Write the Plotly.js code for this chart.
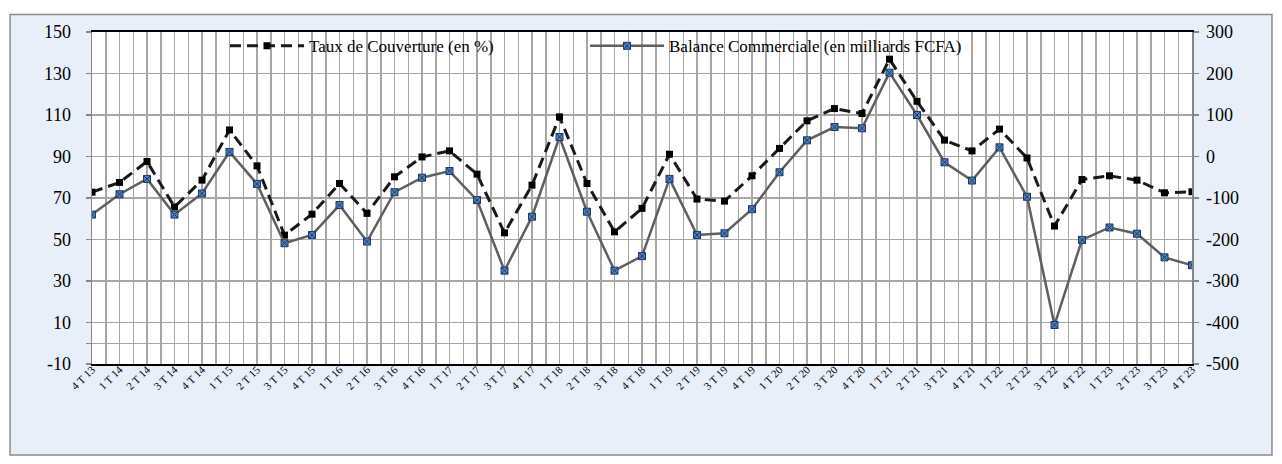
<!DOCTYPE html>
<html>
<head>
<meta charset="utf-8">
<script src="https://cdn.plot.ly/plotly-3.0.1.min.js"></script>
<style>html,body{margin:0;padding:0;background:#fff;}#chart{width:1282px;height:464px;}</style>
</head>
<body>
<div id="chart"></div>
<script>
const quarters = ["4 T 13","1 T 14","2 T 14","3 T 14","4 T 14","1 T 15","2 T 15","3 T 15","4 T 15","1 T 16","2 T 16","3 T 16","4 T 16","1 T 17","2 T 17","3 T 17","4 T 17","1 T 18","2 T 18","3 T 18","4 T 18","1 T 19","2 T 19","3 T 19","4 T 19","1 T 20","2 T 20","3 T 20","4 T 20","1 T 21","2 T 21","3 T 21","4 T 21","1 T 22","2 T 22","3 T 22","4 T 22","1 T 23","2 T 23","3 T 23","4 T 23"];
const tauxCouverture = [72.8,77.5,87.6,65.7,78.6,102.8,85.5,52.1,62.2,77,62.6,80.2,89.8,92.7,81.5,53.2,76.2,109.1,77,53.7,65,91.1,69.5,68.5,80.7,93.9,107.2,113.1,110.7,136.9,116.6,97.9,92.7,103.2,89.3,56.5,78.9,80.7,78.6,72.5,73];
const balanceCommerciale = [-140,-91,-54,-140,-89,11,-66,-209,-189,-117,-205,-86,-51,-35,-105,-275,-145,47,-133,-275,-240,-54,-189,-185,-127,-38,39,71,68,202,100,-14,-58,22,-97,-406,-201,-171,-186,-243,-262];
const seriesNames = ["Taux de Couverture (en %)", "Balance Commerciale (en milliards FCFA)"];
const leftTicks = [-10, 10, 30, 50, 70, 90, 110, 130, 150];
const rightTicks = [-500, -400, -300, -200, -100, 0, 100, 200, 300];

const xIdx = quarters.map((q, i) => i);
const FONT = "Liberation Serif, Times New Roman, serif";
const GRID = "#a6a6a6";

const traces = [
  {
    x: xIdx, y: tauxCouverture, name: seriesNames[0], type: "scatter", mode: "lines+markers",
    line: {color: "#1a1a1a", width: 3, dash: "11px,6px"},
    marker: {symbol: "square", size: 7, color: "#000"},
    yaxis: "y", legend: "legend"
  },
  {
    x: xIdx, y: balanceCommerciale, name: seriesNames[1], type: "scatter", mode: "lines+markers",
    line: {color: "#5f5f5f", width: 2.5},
    marker: {symbol: "square-x", size: 7, color: "#4f81bd", line: {color: "#1f3864", width: 1}},
    yaxis: "y2", legend: "legend2"
  }
];

const layout = {
  width: 1282, height: 464,
  margin: {l: 92, r: 90, t: 32, b: 100},
  paper_bgcolor: "#ffffff",
  plot_bgcolor: "#ffffff",
  font: {family: FONT, color: "#000", size: 17},
  showlegend: true,
  legend: {x: 0.1209, y: 0.957, xanchor: "left", yanchor: "middle", bgcolor: "rgba(0,0,0,0)",
           font: {family: FONT, size: 17}, itemwidth: 74, orientation: "h"},
  legend2: {x: 0.4482, y: 0.957, xanchor: "left", yanchor: "middle", bgcolor: "rgba(0,0,0,0)",
           font: {family: FONT, size: 17}, itemwidth: 74, orientation: "h"},
  xaxis: {
    range: [0, 40], tickmode: "array", tickvals: xIdx, ticktext: quarters,
    tickangle: -45, tickfont: {family: FONT, size: 11},
    showgrid: true, gridcolor: GRID, gridwidth: 1.5,
    minor: {tick0: 0.5, dtick: 1, showgrid: true, gridcolor: GRID, gridwidth: 1.5, ticks: ""},
    showline: true, linecolor: "#000", linewidth: 2, mirror: true,
    zeroline: false, ticks: "", ticklabelstandoff: -7
  },
  yaxis: {
    range: [-10, 150], tickmode: "array", tickvals: leftTicks, ticktext: leftTicks.map(String),
    showgrid: true, gridcolor: GRID, gridwidth: 1.5,
    zeroline: true, zerolinecolor: GRID, zerolinewidth: 1.5,
    showline: true, linecolor: "#868686", linewidth: 1.5,
    ticks: "outside", ticklen: 5, tickcolor: "#868686", tickwidth: 1.5,
    minor: {tickmode: "array", tickvals: [0], ticks: "outside", ticklen: 5, tickcolor: "#868686", tickwidth: 1.5, showgrid: false},
    tickfont: {family: FONT, size: 18}, ticklabelstandoff: 11
  },
  yaxis2: {
    range: [-500, 300], tickmode: "array", tickvals: rightTicks, ticktext: rightTicks.map(String),
    overlaying: "y", side: "right",
    showgrid: false, zeroline: false,
    showline: true, linecolor: "#868686", linewidth: 1.5,
    ticks: "outside", ticklen: 5, tickcolor: "#868686", tickwidth: 1.5,
    tickfont: {family: FONT, size: 18}, ticklabelstandoff: 4
  },
  shapes: [
    {type: "rect", xref: "paper", yref: "paper", x0: -0.0745, x1: 1.0727, y0: -0.274, y1: 1.053,
     fillcolor: "#e8eff8", line: {color: "#8c8c8c", width: 1.5}, layer: "below"},
    {type: "rect", xref: "paper", yref: "paper", x0: 0, x1: 1, y0: 0, y1: 1,
     fillcolor: "#ffffff", line: {width: 0}, layer: "below"}
  ]
};

Plotly.newPlot("chart", traces, layout, {displayModeBar: false, staticPlot: true});
</script>
</body>
</html>
